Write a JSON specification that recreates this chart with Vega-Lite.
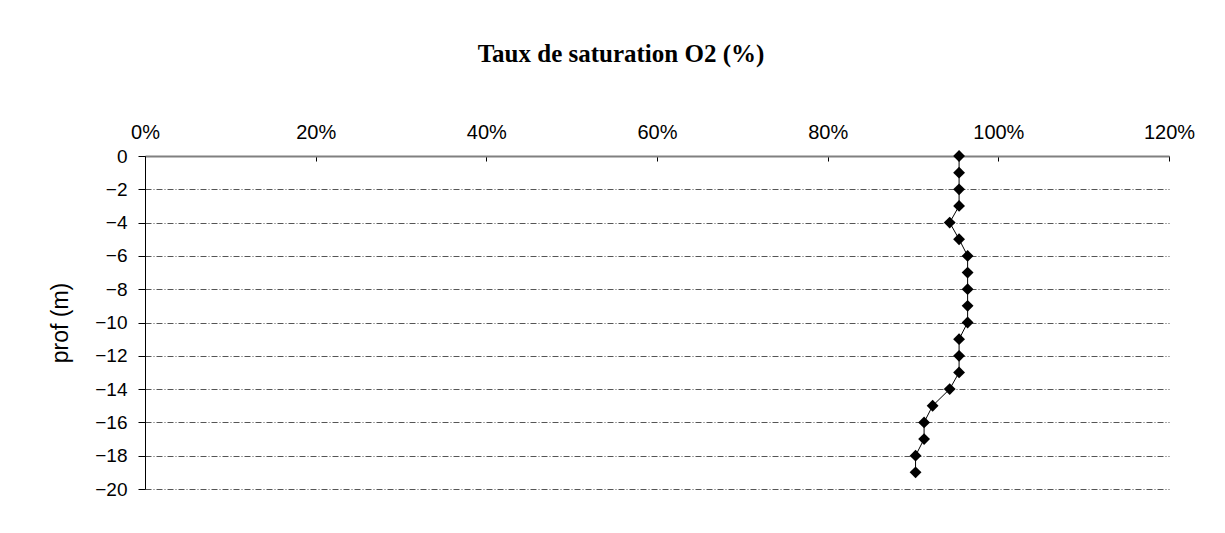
{
  "$schema": "https://vega.github.io/schema/vega-lite/v6.json",
  "width": 1024,
  "height": 333,
  "autosize": {"type": "none"},
  "padding": {"left": 145, "top": 156, "right": 56, "bottom": 44},
  "background": "white",
  "config": {
    "view": {"stroke": null},
    "font": "Liberation Sans"
  },
  "title": {
    "text": "Taux de saturation O2 (%)",
    "font": "Liberation Serif",
    "fontSize": 25,
    "fontWeight": "bold",
    "color": "black",
    "anchor": "middle",
    "frame": "group",
    "dx": -36,
    "offset": 55
  },
  "data": {
    "values": [
      {"prof": 0, "sat": 0.954},
      {"prof": -1, "sat": 0.954},
      {"prof": -2, "sat": 0.954},
      {"prof": -3, "sat": 0.954},
      {"prof": -4, "sat": 0.943},
      {"prof": -5, "sat": 0.954},
      {"prof": -6, "sat": 0.964},
      {"prof": -7, "sat": 0.964},
      {"prof": -8, "sat": 0.964},
      {"prof": -9, "sat": 0.964},
      {"prof": -10, "sat": 0.964},
      {"prof": -11, "sat": 0.954},
      {"prof": -12, "sat": 0.954},
      {"prof": -13, "sat": 0.954},
      {"prof": -14, "sat": 0.943},
      {"prof": -15, "sat": 0.923},
      {"prof": -16, "sat": 0.913},
      {"prof": -17, "sat": 0.913},
      {"prof": -18, "sat": 0.903},
      {"prof": -19, "sat": 0.903}
    ]
  },
  "encoding": {
    "x": {
      "field": "sat",
      "type": "quantitative",
      "scale": {"domain": [0, 1.2], "nice": false, "zero": false},
      "axis": {
        "orient": "top",
        "title": null,
        "values": [0, 0.2, 0.4, 0.6, 0.8, 1.0, 1.2],
        "format": ".0%",
        "grid": false,
        "domainColor": "#808080",
        "domainWidth": 2,
        "tickColor": "black",
        "tickSize": -5,
        "labelPadding": 19,
        "labelAlign": "center",
        "labelFlush": false,
        "labelOverlap": false,
        "labelFont": "Liberation Sans",
        "labelFontSize": 20,
        "labelColor": "black"
      }
    },
    "y": {
      "field": "prof",
      "type": "quantitative",
      "scale": {"domain": [-20, 0], "nice": false, "zero": false},
      "axis": {
        "title": "prof (m)",
        "titleFont": "Liberation Sans",
        "titleFontSize": 23,
        "titleFontWeight": "normal",
        "titleColor": "black",
        "titlePadding": 22,
        "values": [0, -2, -4, -6, -8, -10, -12, -14, -16, -18, -20],
        "format": "d",
        "grid": true,
        "gridColor": "#555555",
        "gridDash": [6, 2, 1, 2],
        "gridWidth": 1,
        "domainColor": "black",
        "domainWidth": 1,
        "tickColor": "black",
        "tickSize": 7,
        "labelPadding": 11,
        "labelOverlap": false,
        "labelFont": "Liberation Sans",
        "labelFontSize": 19,
        "labelColor": "black"
      }
    }
  },
  "layer": [
    {
      "mark": {"type": "line", "color": "black", "strokeWidth": 1},
      "encoding": {"order": {"field": "prof", "sort": "descending"}}
    },
    {
      "mark": {"type": "point", "shape": "diamond", "filled": true, "color": "black", "opacity": 1, "size": 140}
    }
  ]
}
